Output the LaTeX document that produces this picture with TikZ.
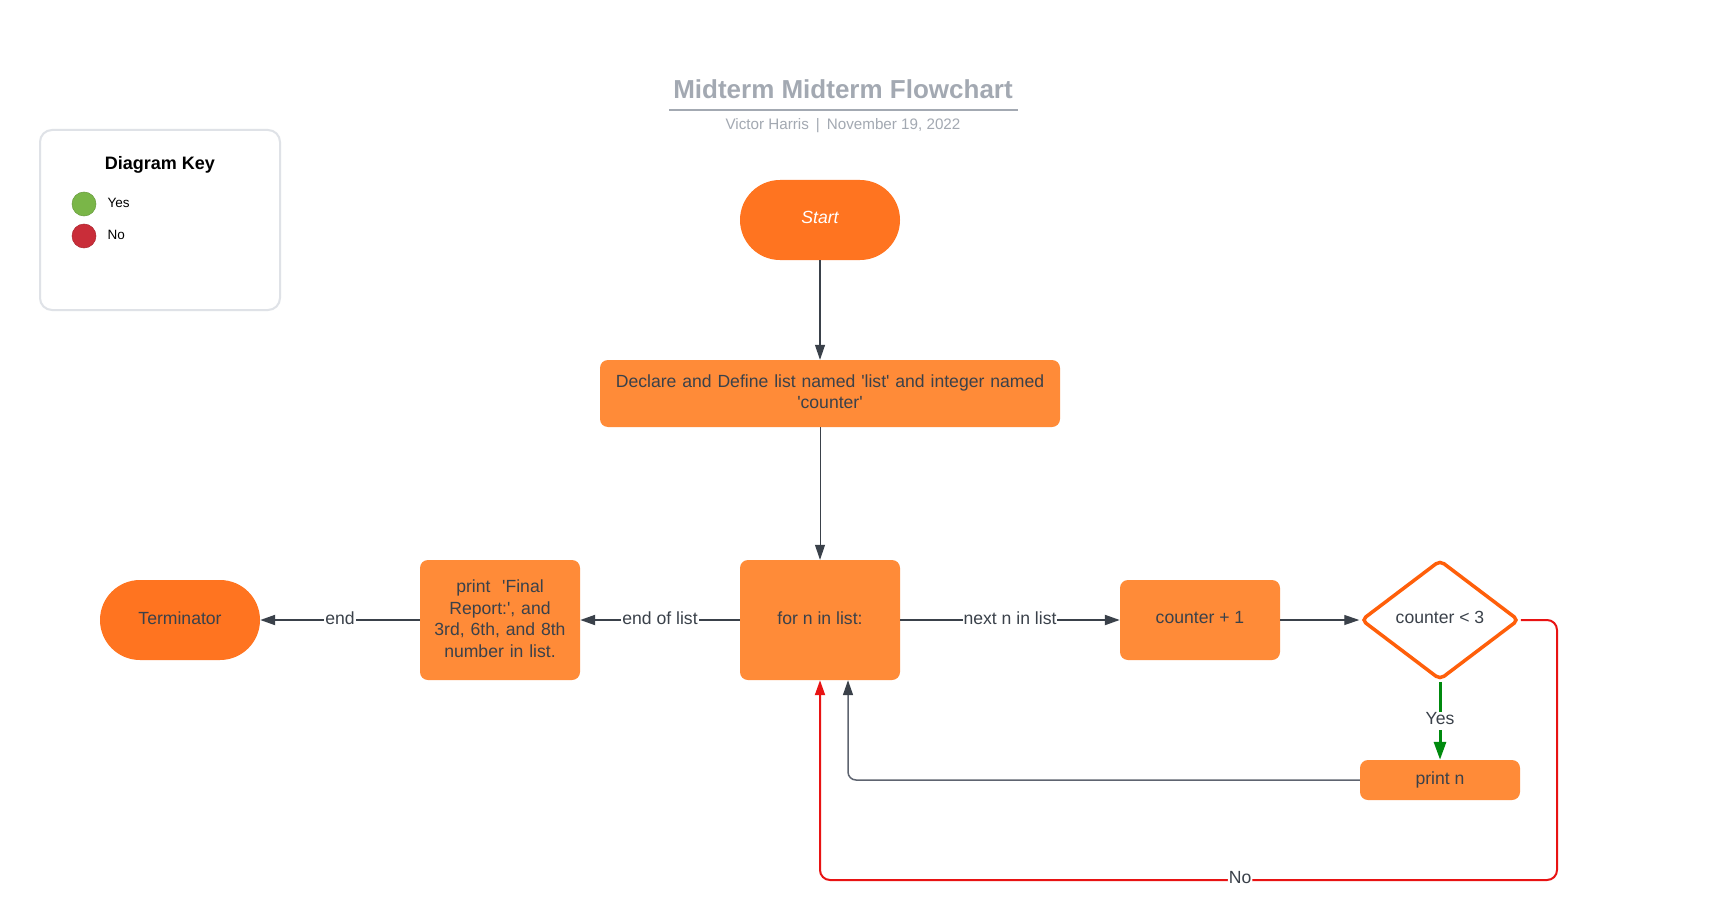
\documentclass[tikz,border=0pt]{standalone}
\usepackage{fontspec}
\setmainfont{Liberation Sans}[Ligatures=TeXOff]
\usetikzlibrary{arrows.meta,shapes.geometric}
\definecolor{boxor}{HTML}{FF8B38}
\definecolor{termor}{HTML}{FF7420}
\definecolor{txt}{HTML}{3A414A}
\definecolor{dmor}{HTML}{FF5F0A}
\definecolor{gline}{HTML}{5E6470}
\definecolor{yesg}{HTML}{008A0E}
\definecolor{nor}{HTML}{E81313}
\definecolor{ttl}{HTML}{A3A9B2}
\definecolor{keyb}{HTML}{DFE2E7}
\definecolor{keyg}{HTML}{7AB648}
\definecolor{keyr}{HTML}{C92D39}
\begin{document}
\begin{tikzpicture}[x=1pt,y=-1pt,
  mainfont/.style={font=\fontsize{17.6}{21.5}\selectfont},
  procbox/.style={fill=boxor, rounded corners=8pt, text=txt, mainfont, align=center, inner sep=2pt, text depth=4.4pt},
  multibox/.style={fill=boxor, rounded corners=8pt, inner sep=0pt},
  multitext/.style={text=txt, mainfont, align=center, inner sep=0pt},
  termbox/.style={fill=termor, rounded corners=40pt, minimum width=160pt, minimum height=80pt, mainfont, inner sep=2pt, text depth=4.4pt},
  tip/.style={-{Triangle[length=15pt,width=10pt]}},
  conn/.style={draw=txt, line width=2pt, tip},
  thinconn/.style={draw=txt, line width=1.2pt, tip},
  gconn/.style={draw=gline, line width=1.5pt, rounded corners=8pt, -{Triangle[length=15pt,width=10pt,color=txt]}},
  yconn/.style={draw=yesg, line width=3pt, -{Triangle[length=18pt,width=12pt]}},
  nconn/.style={draw=nor, line width=2pt, rounded corners=10pt, -{Triangle[length=15pt,width=10pt]}},
  lbl/.style={fill=white, text=txt, mainfont, inner sep=1pt, text depth=4.4pt},
]
\useasboundingbox (0,0) rectangle (1720,920);
\fill[white] (0,0) rectangle (1720,920);

% title
\node[text=ttl, font=\bfseries\fontsize{26}{30}\selectfont] (title) at (843,89) {Midterm Midterm Flowchart};
\draw[ttl, line width=2pt] (669,110) -- (1018,110);
\node[text=ttl, font=\fontsize{15.2}{18}\selectfont] (sub) at (843,126) {Victor Harris\hspace{7pt}|\hspace{7pt}November 19, 2022};

% key
\draw[keyb, line width=2pt, rounded corners=12pt] (40,130) rectangle (280,310);
\node[font=\bfseries\fontsize{18}{21}\selectfont] (keyt) at (160,165) {Diagram Key};
\fill[keyg, draw=keyg!85!black, line width=0.5pt] (84,204) circle (12);
\fill[keyr, draw=keyr!85!black, line width=0.5pt] (84,236) circle (12);
\node[anchor=west, font=\fontsize{13.5}{16}\selectfont] (kyes) at (104,203) {Yes};
\node[anchor=west, font=\fontsize{13.5}{16}\selectfont] (kno) at (104,234.5) {No};

% nodes
\node[termbox, text=white, font=\itshape\fontsize{17.6}{21.5}\selectfont] (start) at (820,220) {Start};
\node[multibox, minimum width=460pt, minimum height=67pt] (decl) at (830,393.5) {};
\node[multitext, text width=450pt] (decltxt) at (830,391.5)
  {Declare and Define list named 'list' and integer named\\'counter'};
\node[procbox, minimum width=160pt, minimum height=120pt] (forb) at (820,620) {for n in list:};
\node[multibox, minimum width=160pt, minimum height=120pt] (final) at (500,620) {};
\node[multitext, text width=150pt] (finaltxt) at (500,618.5)
  {print\ \ 'Final\\Report:', and\\3rd, 6th, and 8th\\number in list.};
\node[termbox, text=txt] (term) at (180,620) {Terminator};
\node[procbox, minimum width=160pt, minimum height=80pt] (cnt) at (1200,620) {counter + 1};
\node[diamond, draw=dmor, line width=3.5pt, rounded corners=5pt, fill=white, text=txt, mainfont,
  minimum width=158pt, minimum height=120pt, inner sep=0pt, text depth=4.4pt] (dia) at (1440,620) {counter < 3};
\node[procbox, minimum width=160pt, minimum height=40pt] (printn) at (1440,780) {print n};
\coordinate (nr) at (1557,880);

% connectors
\draw[thinconn] (start.south) -- (start.south |- decl.north);
\draw[draw=txt, line width=1pt, tip] (forb.north |- decl.south) -- (forb.north);
\draw[conn] (forb.west) -- node[lbl] {end of list} (final.east);
\draw[conn] (final.west |- term.east) -- node[lbl] {end} (term.east);
\draw[conn] (forb.east) -- node[lbl] {next n in list} (cnt.west);
\draw[thinconn] (cnt.east) -- (dia.west);
\draw[yconn] (dia.south) -- node[lbl] {Yes} (printn.north);
\draw[gconn] (printn.west) -| ([xshift=28pt]forb.south);
\draw[nconn] (dia.east) -| (nr) -| node[lbl, pos=0.215] {No} (forb.south);
\end{tikzpicture}
\end{document}
